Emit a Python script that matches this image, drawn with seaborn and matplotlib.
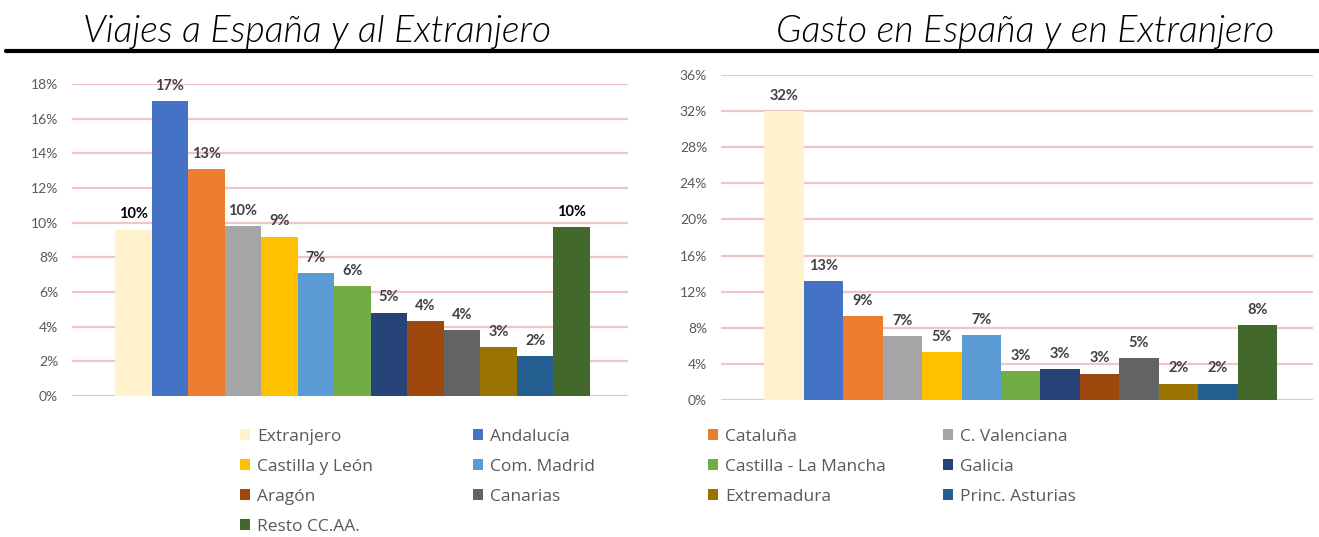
import matplotlib
matplotlib.use('Agg')
import matplotlib.pyplot as plt
import seaborn as sns
from matplotlib.patches import Patch
from matplotlib.lines import Line2D
from matplotlib.ticker import FuncFormatter

categorias = ['Extranjero', 'Andalucía', 'Cataluña', 'C. Valenciana', 'Castilla y León',
              'Com. Madrid', 'Castilla - La Mancha', 'Galicia', 'Aragón', 'Canarias',
              'Extremadura', 'Princ. Asturias', 'Resto CC.AA.']
colores = ['#FFF2CC', '#4472C4', '#ED7D31', '#A5A5A5', '#FFC000', '#5B9BD5', '#70AD47',
           '#264478', '#9E480E', '#636363', '#997300', '#255E91', '#43682B']

viajes = [9.6, 17.0, 13.1, 9.8, 9.2, 7.1, 6.35, 4.8, 4.3, 3.8, 2.8, 2.3, 9.75]
gasto = [32.0, 13.2, 9.3, 7.1, 5.3, 7.2, 3.2, 3.4, 2.9, 4.6, 1.8, 1.8, 8.3]

ticks_viajes = [0, 2, 4, 6, 8, 10, 12, 14, 16, 18]
ticks_gasto = [0, 4, 8, 12, 16, 20, 24, 28, 32, 36]

sns.set_theme(style='white')
plt.rcParams['font.family'] = ['Lato', 'DejaVu Sans']

W, H = 1319, 537
fig = plt.figure(figsize=(W / 100, H / 100), dpi=100)

ax1 = fig.add_axes([72 / W, 1 - 396 / H, 556 / W, 312 / H])
ax2 = fig.add_axes([721 / W, 1 - 400 / H, 592 / W, 325 / H])


def dibujar(ax, valores, ticks, xlim, negros):
    sns.barplot(x=categorias, y=valores, hue=categorias, palette=colores,
                hue_order=categorias, order=categorias, width=1.0, linewidth=0,
                saturation=1, legend=False, ax=ax)
    ax.set_xlim(*xlim)
    ax.set_ylim(0, ticks[-1])
    ax.set_yticks(ticks)
    ax.yaxis.set_major_formatter(FuncFormatter(lambda v, p: f'{v:.0f}%'))
    ax.set_xticks([])
    ax.set_xlabel('')
    ax.set_ylabel('')
    ax.tick_params(axis='y', length=0, pad=10, labelsize=10, labelcolor='#595959')
    for s in ax.spines.values():
        s.set_visible(False)
    ax.grid(axis='y', color='#F2C4C4', linewidth=1.6)
    ax.set_axisbelow(True)
    for i, v in enumerate(valores):
        c = 'black' if i in negros else '#404040'
        ax.annotate(f'{round(v)}%', (i, v), xytext=(0, 6), textcoords='offset points',
                    ha='center', va='bottom', fontsize=10.5, fontweight='bold', color=c)


dibujar(ax1, viajes, ticks_viajes, (-1.68, 13.54), [0, 12])
dibujar(ax2, gasto, ticks_gasto, (-1.6, 13.41), [])

fig.text(317 / W, 1 - 32 / H, 'Viajes a España y al Extranjero', ha='center', va='center',
         fontsize=27, style='italic', fontweight=300, color='black')
fig.text(1025 / W, 1 - 32 / H, 'Gasto en España y en Extranjero', ha='center', va='center',
         fontsize=27, style='italic', fontweight=300, color='black')
fig.add_artist(Line2D([6 / W, 1], [1 - 50.5 / H, 1 - 50.5 / H], color='black', linewidth=3))

# leyenda en 4 columnas repartidas como en Excel
col_x = [240, 473, 708, 943]
for c in range(4):
    idx = list(range(c, len(categorias), 4))
    handles = [Patch(facecolor=colores[i], edgecolor='none') for i in idx]
    labels = [categorias[i] for i in idx]
    fig.legend(handles, labels, loc='upper left', bbox_to_anchor=(col_x[c] / W, 1 - 429 / H),
               frameon=False, borderpad=0, borderaxespad=0,
               prop={'family': 'Open Sans', 'size': 12.5},
               handlelength=0.6, handleheight=0.6, handletextpad=0.38, labelspacing=0.8,
               labelcolor='#595959')

fig.savefig('out.png', dpi=100)
